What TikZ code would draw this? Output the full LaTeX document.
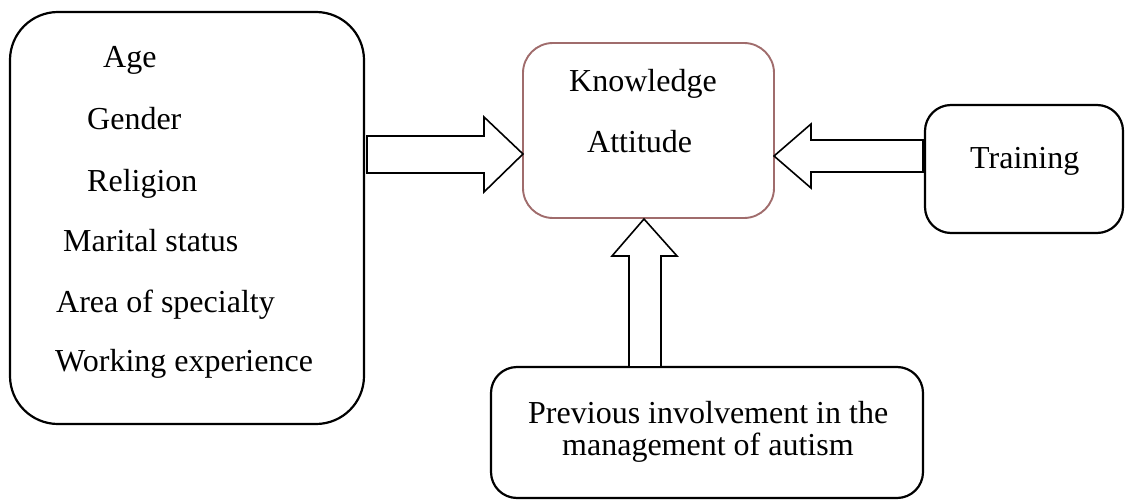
\documentclass[tikz,border=0pt]{standalone}
\usepackage{fontspec}
\setmainfont{Liberation Serif}
\definecolor{boxbrown}{RGB}{160,108,108}
\begin{document}
\begin{tikzpicture}[x=1pt,y=-1pt,
  box/.style={draw=black, line width=2.2pt, inner sep=0pt},
  txt/.style={anchor=base west, inner sep=0pt, font=\fontsize{32}{38}\selectfont},
  blockarrow/.style={draw=black, line width=1.6pt, fill=white, line join=miter}]
\useasboundingbox (0,0) rectangle (1126,500);
% boxes
\node[box, rounded corners=48pt, minimum width=354pt, minimum height=412pt] (demo) at (187,218) {};
\node[box, draw=boxbrown, line width=1.9pt, rounded corners=30pt, minimum width=251pt, minimum height=175pt] (cent) at (648.5,130.5) {};
\node[box, rounded corners=26pt, minimum width=198pt, minimum height=128pt] (train) at (1024,169) {};
\node[box, rounded corners=26pt, minimum width=432pt, minimum height=131pt] (prev) at (707,432.5) {};
% texts
\node[txt] (t1) at (103,68) {Age};
\node[txt] (t2) at (87,129) {Gender};
\node[txt] (t3) at (87,191) {Religion};
\node[txt] (t4) at (63,251) {Marital status};
\node[txt] (t5) at (56,312) {Area of specialty};
\node[txt] (t6) at (55,371) {Working experience};
\node[txt] (k1) at (569,92) {Knowledge};
\node[txt] (k2) at (587,152) {Attitude};
\node[txt] (tr) at (970,168) {Training};
\node[txt] (p1) at (528,423) {Previous involvement in the};
\node[txt] (p2) at (562,455) {management of autism};
% block arrows
\draw[blockarrow] (367,136) -- (484,136) -- (484,117) -- (523,154) -- (484,192) -- (484,173) -- (367,173) -- cycle;
\draw[blockarrow] (923,140) -- (811,140) -- (811,124) -- (774,156) -- (811,188) -- (811,172) -- (923,172) -- cycle;
\draw[blockarrow] (629,367) -- (629,256) -- (612,256) -- (644,219) -- (677,256) -- (661,256) -- (661,367) -- cycle;
\end{tikzpicture}
\end{document}
